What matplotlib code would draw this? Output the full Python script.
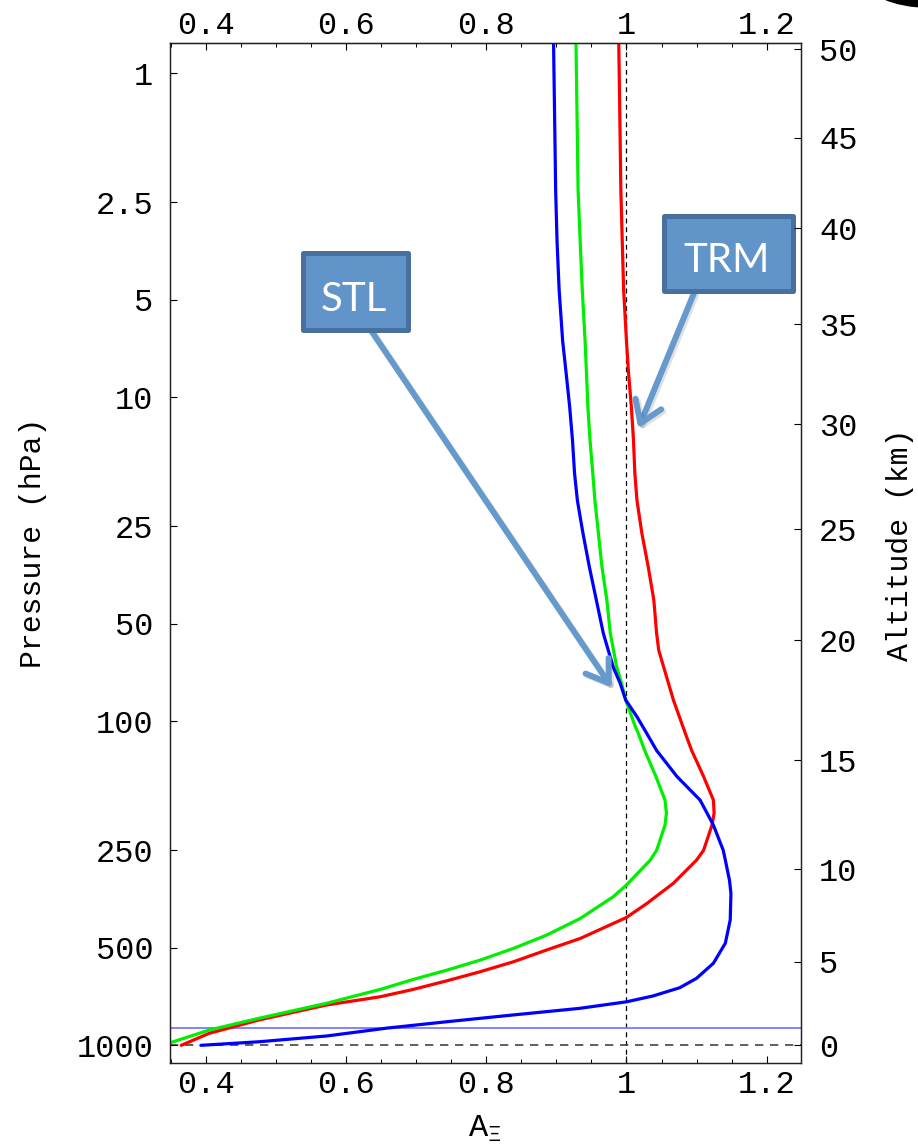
import matplotlib
matplotlib.use("Agg")
import matplotlib.pyplot as plt
import matplotlib.patheffects as pe
from matplotlib.patches import Rectangle, Ellipse
from matplotlib.ticker import FixedLocator, MultipleLocator, NullLocator

plt.rcParams['font.family'] = ['Liberation Mono', 'DejaVu Sans Mono']
plt.rcParams['mathtext.fontset'] = 'custom'
plt.rcParams['mathtext.rm'] = 'Liberation Mono'
plt.rcParams['mathtext.it'] = 'Liberation Mono'

# --- data (pressure in hPa, A_Xi dimensionless) ---
p_red = [0.8, 1.6, 2.29, 3.3, 4.67, 6.7, 8.43, 10.7, 13.55, 17.2, 20.8, 26.3, 33.3,
         42.2, 53.5, 60.3, 67.9, 86, 109, 123, 148, 175, 192, 209, 250, 268, 316, 365,
         403, 468, 508, 552, 593, 632, 672, 708, 751, 835, 918, 1000]
a_red = [0.989, 0.991, 0.992, 0.994, 0.996, 1.000, 1.003, 1.007, 1.010, 1.012, 1.015,
         1.022, 1.031, 1.039, 1.043, 1.046, 1.053, 1.067, 1.084, 1.093, 1.110, 1.124,
         1.125, 1.122, 1.110, 1.100, 1.067, 1.029, 1.000, 0.934, 0.886, 0.839, 0.791,
         0.744, 0.696, 0.649, 0.572, 0.476, 0.405, 0.365]

p_green = [0.8, 1.6, 2.29, 3.3, 4.67, 6.7, 8.43, 10.7, 13.55, 17.2, 20.8, 26.3, 33.3,
           42.2, 53.5, 67.9, 76.3, 86, 103, 109, 123, 148, 175, 192, 209, 250, 268, 320,
           348, 406, 457, 502, 546, 586, 626, 672, 742, 825, 897, 1000]
a_green = [0.928, 0.930, 0.931, 0.934, 0.937, 0.941, 0.943, 0.945, 0.948, 0.952, 0.955,
           0.960, 0.965, 0.972, 0.977, 0.986, 0.993, 0.999, 1.012, 1.017, 1.026, 1.042,
           1.055, 1.057, 1.055, 1.043, 1.034, 1.000, 0.981, 0.934, 0.886, 0.839, 0.791,
           0.744, 0.696, 0.649, 0.572, 0.476, 0.405, 0.338]

p_blue = [0.8, 1.6, 2.29, 3.3, 4.67, 6.7, 8.43, 10.7, 13.55, 17.2, 20.8, 26.3, 33.3,
          42.2, 53.5, 67.9, 76.3, 86, 96.8, 109, 123, 148, 175, 209, 250, 268, 310, 340,
          410, 484, 558, 621, 664, 704, 734, 769, 806, 846, 884, 936, 975, 1000]
a_blue = [0.896, 0.898, 0.899, 0.901, 0.904, 0.909, 0.914, 0.919, 0.923, 0.926, 0.930,
          0.938, 0.947, 0.957, 0.967, 0.981, 0.991, 0.999, 1.015, 1.029, 1.043, 1.072,
          1.105, 1.124, 1.138, 1.141, 1.147, 1.149, 1.148, 1.141, 1.124, 1.100, 1.076,
          1.038, 1.000, 0.933, 0.838, 0.743, 0.660, 0.572, 0.476, 0.393]

p_ticks = [1, 2.5, 5, 10, 25, 50, 100, 250, 500, 1000]
p_labels = ['1', '2.5', '5', '10', '25', '50', '100', '250', '500', '1000']
alt_km = [0, 5, 10, 15, 20, 25, 30, 35, 40, 45, 50]
alt_p = [1000, 552, 286, 132, 56.2, 25.5, 12.1, 5.94, 3.01, 1.58, 0.843]
x_ticks = [0.4, 0.6, 0.8, 1.0, 1.2]
x_labels = ['0.4', '0.6', '0.8', '1', '1.2']
surface_p = 1000
boundary_p = 882

fig = plt.figure(figsize=(9.18, 11.45), dpi=100)
ax = fig.add_axes([0.1852, 0.0716, 0.6874, 0.8911])

ax.axvline(1.0, color='black', lw=0.9, ls=(0, (4, 3)), zorder=1)
ax.axhline(surface_p, color='#444444', lw=1.2, ls=(0, (5, 4)), zorder=1)
ax.axhline(boundary_p, color='#7878ff', lw=1.3, zorder=1)

for a, p, c in [(a_red, p_red, '#ff0000'), (a_green, p_green, '#00ee00'),
                (a_blue, p_blue, '#0000ff')]:
    ax.plot(a, p, color=c, lw=2.3, solid_joinstyle='round', solid_capstyle='round', zorder=3)

ax.set_yscale('log')
ax.set_ylim(1134, 0.804)
ax.set_xlim(0.349, 1.249)

ax.yaxis.set_major_locator(FixedLocator(p_ticks))
ax.set_yticklabels(p_labels)
ax.yaxis.set_minor_locator(NullLocator())
ax.xaxis.set_major_locator(FixedLocator(x_ticks))
ax.set_xticklabels(x_labels)
ax.xaxis.set_minor_locator(MultipleLocator(0.05))
ax.tick_params(axis='both', which='major', direction='in', length=5, width=0.8, labelsize=23)
ax.tick_params(axis='both', which='minor', direction='in', length=3, width=0.7)
ax.tick_params(axis='y', pad=12)
ax.tick_params(axis='x', pad=5)

top = ax.secondary_xaxis('top')
top.xaxis.set_major_locator(FixedLocator(x_ticks))
top.set_xticklabels(x_labels)
top.xaxis.set_minor_locator(MultipleLocator(0.05))
top.tick_params(axis='x', which='major', direction='in', length=5, width=0.8, labelsize=23, pad=1)
top.tick_params(axis='x', which='minor', direction='in', length=3, width=0.7)

ax2 = ax.twinx()
ax2.set_yscale('log')
ax2.set_ylim(ax.get_ylim())
ax2.yaxis.set_major_locator(FixedLocator(alt_p))
ax2.set_yticklabels([str(k) for k in alt_km])
ax2.yaxis.set_minor_locator(NullLocator())
ax2.tick_params(axis='y', direction='in', length=5, width=0.8, labelsize=23, pad=13)

for a in (ax, ax2):
    for s in a.spines.values():
        s.set_linewidth(0.9)
        s.set_color('#222222')

fig.text(33 / 918, 1 - 543 / 1145, 'Pressure (hPa)', rotation=90, ha='center',
         va='center', fontsize=21.5)
fig.text(900 / 918, 1 - 545 / 1145, 'Altitude (km)', rotation=90, ha='center',
         va='center', fontsize=21.5)
fig.text(485 / 918, 1 - 1129 / 1145, r'A$_{\Xi}$', ha='center', va='center', fontsize=23)

# call-out boxes with arrows
box_fc = '#6195c9'
box_ec = '#47709f'
arrow_c = '#6699cc'
shadow = [pe.SimpleLineShadow(offset=(1.5, -1.5), shadow_color='k', alpha=0.12), pe.Normal()]

for (x0, y0, w, h), label, (tx, ty) in [
        ((0.210, 0.7182, 0.1664, 0.0755), 'STL', (0.2916, 0.7373)),
        ((0.7832, 0.7568, 0.2033, 0.0735), 'TRM', (0.8822, 0.7756))]:
    ax.add_patch(Rectangle((x0, y0), w, h, transform=ax.transAxes, fc=box_fc, ec=box_ec,
                           lw=3.6, joinstyle='round', zorder=5, clip_on=False))
    ax.text(tx, ty, label, transform=ax.transAxes, ha='center', va='baseline',
            color='white', fontsize=29, family='Lato', zorder=6)

for start, tip in [((0.3201, 0.7165), (0.7000, 0.3680)),
                   ((0.8304, 0.7547), (0.7422, 0.6221))]:
    ann = ax.annotate('', xy=tip, xytext=start, xycoords='axes fraction',
                      textcoords='axes fraction', zorder=4,
                      arrowprops=dict(arrowstyle='->,head_length=0.75,head_width=0.5',
                                      lw=4.3, color=arrow_c, shrinkA=0, shrinkB=0,
                                      mutation_scale=20))
    ann.arrow_patch.set_path_effects(shadow)

# edge of a cropped panel letter in the top-right corner (only its lower rim shows)
fig.add_artist(Ellipse((9.30, 11.70), 1.38, 0.66, transform=fig.dpi_scale_trans,
                       fc='black', ec='none'))

fig.savefig('out.png', dpi=100)
